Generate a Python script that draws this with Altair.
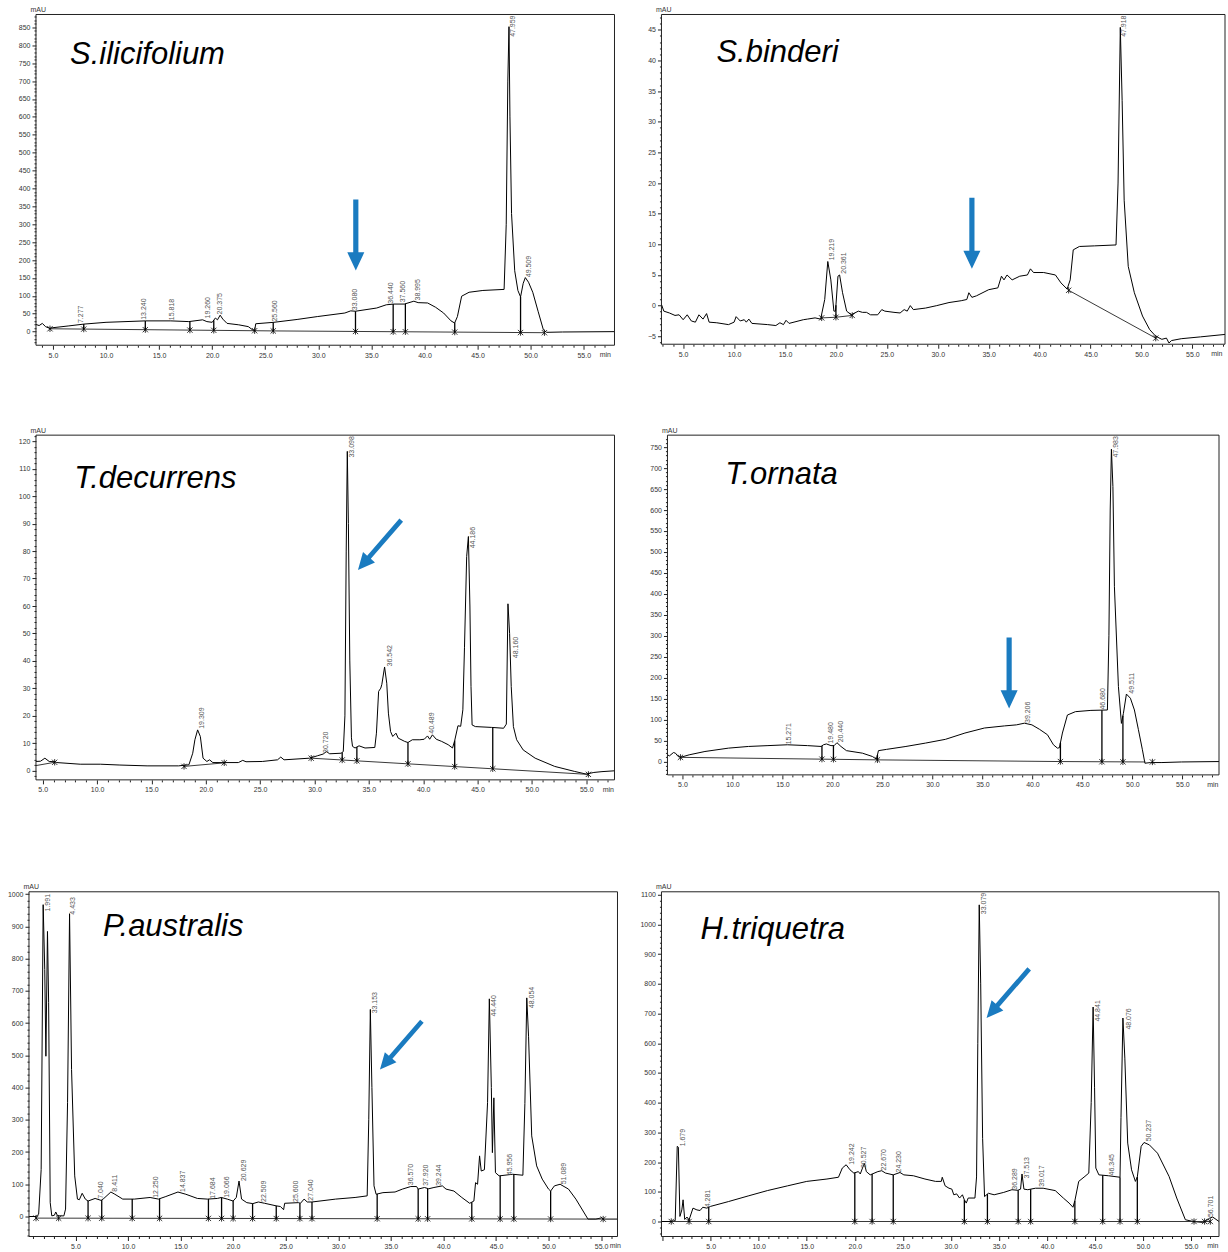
import altair as alt
import numpy as np
import pandas as pd

FONT = "Liberation Sans"
TITLE_FONT = "Liberation Sans"
ARROW_COLOR = "#1a7bc0"
ARROW_PATH = "M-0.073,-1L0.073,-1L0.073,0.49L0.24,0.49L0,1L-0.24,0.49L-0.073,0.49Z"
MARK_PATH = "M-1,-1L1,1M-1,1L1,-1M0,-1.2L0,1.2"

# ---------------- S.ilicifolium ----------------
p1_trace = [(3.4,20),(3.7,17),(4.0,23),(4.3,14),(4.7,9),(5.0,11),(6.5,16),(7.9,21),(10.0,26),(13.7,30),
            (16.1,30),(17.8,28),(19.1,33),(19.5,28),(20.0,26),(20.3,38),(20.5,33),(20.75,46),(21.0,35),(21.4,23),
            (22.5,19),(23.4,14),(23.85,4),(24.0,2),(24.1,22),(25.8,26),(28.0,34),(29.9,42),(32.5,52),(33.05,58),
            (33.5,57),(35.5,66),(36.4,75),(37.1,77),(38.1,77),(39.0,85),(39.4,81),(40.3,80),(41.05,68),(41.8,52),
            (42.5,30),(42.84,24),(43.1,42),(43.5,99),(44.2,110),(45.5,115),(47.5,118),(47.7,300),(47.85,700),(47.96,852),
            (48.05,600),(48.2,330),(48.5,170),(48.8,115),(49.05,97),(49.3,135),(49.5,151),(49.8,138),(50.2,110),(50.7,57),
            (51.2,5),(51.5,-2),(53.0,-1),(57.9,0)]
p1_base = [[(4.72,8),(25.75,2),(51.3,-3)]]
p1_drops = [7.9,13.7,17.9,20.15,24.0,25.75,33.5,37.05,38.2,42.85,49.05]
p1_marks = [4.72,7.9,13.7,17.9,20.15,24.0,25.75,33.5,37.05,38.2,42.85,49.05,51.3]
p1_labels = [("7.277",7.277,24),("13.240",13.24,33),("15.818",15.818,32),("19.260",19.26,37),("20.375",20.375,48),
             ("25.560",25.56,28),("33.080",33.08,60),("36.440",36.44,78),("37.560",37.56,82),("38.995",38.995,87),
             ("49.509",49.509,152)]
p1_top = [("47.959",47.959)]

# ---------------- S.binderi ----------------
p2_trace = [(2.87,0.2),(3.1,-0.9),(3.65,-1.2),(4.2,-1.6),(4.6,-1.5),(5.0,-2.3),(5.4,-1.5),(5.8,-2.5),(6.2,-2.7),(6.55,-1.5),
            (6.95,-2.2),(7.3,-1.3),(7.55,-2.7),(8.3,-2.8),(9.45,-3.1),(10.0,-2.7),(10.2,-1.8),(10.6,-2.5),(11.0,-2.3),(11.2,-2.7),
            (11.45,-2.2),(11.75,-2.9),(13.3,-3.1),(14.1,-3.25),(14.5,-2.8),(14.85,-3.1),(15.1,-2.4),(15.4,-2.9),(16.8,-2.3),(17.2,-2.2),
            (17.95,-2.0),(18.5,-2.2),(18.9,1.0),(19.2,7.2),(19.5,4.2),(19.8,-0.9),(19.96,-0.9),(20.2,4.8),(20.36,5.0),(20.65,2.1),
            (21.05,-0.9),(21.5,-1.5),(22.2,-0.9),(22.6,-1.1),(23.0,-1.1),(23.4,-1.5),(24.1,-1.5),(24.5,-0.65),(24.8,-0.9),(25.7,-1.1),
            (26.3,-1.2),(26.7,-0.65),(27.0,-0.9),(27.3,0.0),(27.6,-0.65),(28.8,-0.4),(29.9,0.0),(31.1,0.5),(32.3,0.8),(32.85,1.0),
            (33.05,2.1),(33.35,1.35),(33.8,1.6),(35.0,2.6),(35.9,2.9),(36.25,4.8),(36.5,4.2),(36.8,5.0),(37.3,4.2),(38.05,4.8),
            (38.8,5.0),(39.1,6.0),(39.4,5.4),(40.4,5.4),(41.55,5.0),(42.1,3.7),(42.7,2.7),(43.0,4.2),(43.3,9.1),(43.9,9.65),
            (45.4,9.75),(47.5,9.9),(47.7,20.0),(47.92,45.4),(48.1,33.5),(48.3,17.2),(48.7,6.4),(49.3,2.1),(50.1,-1.7),(50.8,-3.9),
            (51.4,-5.0),(52.0,-5.5),(52.45,-5.3),(52.7,-6.1),(52.95,-5.7),(53.9,-5.4),(55.8,-5.1),(58.2,-4.7)]
p2_base = [[(18.6,-2.0),(20.0,-1.9),(21.6,-1.6)],[(42.85,2.5),(51.4,-5.3)]]
p2_drops = [20.0]
p2_marks = [18.6,20.0,21.6,42.85,51.4]
p2_labels = [("19.219",19.219,7.4),("20.361",20.361,5.2)]
p2_top = [("47.918",47.918)]

# ---------------- T.decurrens ----------------
p3_trace = [(4.38,3.4),(4.8,3.5),(5.2,4.6),(5.6,3.4),(6.1,3.3),(6.3,3.0),(8.45,2.4),(10.3,2.4),(12.1,2.1),(14.6,1.8),
            (17.5,1.8),(18.45,2.2),(18.8,6.4),(19.0,11.3),(19.25,14.9),(19.5,12.5),(19.75,4.6),(20.1,3.4),(20.35,4.0),(20.65,3.0),
            (23.0,3.0),(23.4,3.8),(23.7,3.3),(25.2,3.4),(26.6,4.0),(26.9,5.0),(27.2,4.0),(29.55,4.6),(30.3,5.5),(30.8,6.1),
            (31.1,7.0),(31.4,6.2),(32.45,6.4),(32.65,7.0),(32.8,20),(32.92,80),(33.02,116.3),(33.12,90),(33.25,40),(33.4,12),
            (33.5,8.9),(33.73,8.3),(34.1,9.1),(34.65,8.3),(35.55,8.5),(35.7,13.7),(35.9,28.9),(36.1,30.1),(36.2,31.5),(36.45,37.8),
            (36.65,31.9),(36.8,21),(37.0,14.3),(37.2,12.5),(37.5,13.7),(37.7,11.9),(38.3,10.7),(38.6,10.3),(39.0,11.3),(39.7,11.3),
            (40.1,11.5),(40.4,12.7),(40.6,11.5),(40.85,13.1),(41.2,11.5),(41.7,10.7),(42.3,9.5),(42.7,8.3),(42.9,11),(43.2,16.4),
            (43.45,16.2),(43.65,22.2),(43.8,45),(44.0,78),(44.16,85.3),(44.3,60),(44.4,30.7),(44.5,16.7),(44.8,16.1),(46.3,15.8),
            (47.4,15.5),(47.65,17),(47.8,60.8),(47.95,50),(48.1,30.7),(48.3,16.1),(48.6,11.3),(49.2,7.6),(50.3,4.6),(52.1,1.6),
            (53.9,-0.2),(55.0,-1.2),(55.7,-0.6),(56.45,-0.3),(57.6,0)]
p3_base = [[(4.38,1.9),(6.1,3.1)],[(18.0,1.6),(21.7,2.9)],[(29.7,4.6),(55.2,-1.3)]]
p3_drops = [32.55,33.9,38.6,42.9,46.4]
p3_marks = [6.1,18.0,21.7,29.7,32.55,33.9,38.6,42.9,46.4,55.2]
p3_labels = [("19.309",19.309,15.3),("30.720",30.72,6.5),("36.542",36.542,38),("40.489",40.489,13.5),
             ("44.186",44.186,81),("48.160",48.16,41)]
p3_top = [("33.098",33.098)]

# ---------------- T.ornata ----------------
p4_trace = [(3.5,16),(3.7,13.5),(4.1,21.5),(4.3,20),(4.57,12),(4.8,10),(5.67,16),(7.25,24),(9.6,32),(11.6,36),
            (13.55,38),(15.5,40),(17.5,38),(18.87,36),(19.1,40),(19.4,42),(19.85,38),(20.17,38),(20.45,45),(20.85,36),
            (21.4,26),(23.0,20),(24.0,12),(24.4,5.6),(24.6,26),(25.4,29),(27.35,36),(29.3,44),(31.3,53),(33.25,68),
            (35.2,80),(37.2,85),(38.4,87.5),(39.2,91.5),(39.95,87.5),(40.7,77),(41.5,64),(42.1,40),(42.5,32),(42.7,33),
            (43.0,68),(43.5,111),(44.3,119),(45.85,122),(47.5,123),(47.65,300),(47.78,600),(47.9,745),(48.05,656),(48.2,417),
            (48.6,179),(48.9,91),(49.1,115),(49.4,161),(49.8,151),(50.2,123),(50.6,76),(51.0,28),(51.25,-4),(51.8,-2.4),
            (52.95,-2.4),(54.9,-1),(58.66,0)]
p4_base = [[(4.8,10),(24.5,4),(42.8,0),(51.3,-1)]]
p4_drops = [18.95,20.1,24.5,42.8,46.95,49.05]
p4_marks = [4.8,18.95,20.1,24.5,42.8,46.95,49.05,52.0]
p4_labels = [("15.271",15.271,41),("19.480",19.48,43),("20.440",20.44,46),("39.206",39.206,92),
             ("46.680",46.68,124),("49.511",49.511,162)]
p4_top = [("47.983",47.983)]

# ---------------- P.australis ----------------
p5_trace = [(0.58,0),(1.25,0),(1.5,7),(1.74,146),(1.93,967),(2.08,766),(2.19,497),(2.34,884),(2.45,663),(2.6,43),
            (2.75,2),(3.0,4),(3.13,14),(3.3,2),(3.9,2),(4.06,23),(4.25,353),(4.44,939),(4.63,456),(4.93,126),
            (5.19,54),(5.37,52),(5.64,72),(5.94,54),(6.2,48),(6.87,56),(7.44,50),(7.7,56),(8.37,76),(8.75,69),
            (9.5,54),(10.6,54),(12.1,59),(12.9,54),(13.6,62),(14.75,76),(15.5,69),(16.6,56),(17.56,54),(18.5,56),
            (18.87,59),(19.44,54),(20.0,48),(20.3,59),(20.56,110),(20.8,54),(21.3,43),(21.87,40),(22.4,45),(23.0,41),
            (24.1,33),(24.5,31),(24.8,21),(24.9,41),(26.2,43),(26.4,41),(26.75,54),(27.05,45),(27.5,45),(29.75,54),
            (31.6,59),(32.75,64),(32.9,300),(33.05,642),(33.2,400),(33.4,95),(33.6,69),(34.25,74),(35.4,76),(36.1,85),
            (36.9,93),(37.45,93),(37.6,85),(38.2,90),(38.6,86),(39.1,90),(39.9,95),(40.25,85),(41.0,79),(41.75,59),
            (42.5,41),(42.9,48),(43.06,105),(43.25,100),(43.44,188),(43.6,141),(43.9,145),(44.2,353),(44.37,675),(44.56,400),
            (44.66,198),(44.8,368),(44.95,136),(45.3,126),(46.6,131),(47.56,128),(47.75,350),(47.93,678),(48.1,559),(48.4,250),
            (48.87,157),(49.4,116),(50.0,85),(50.2,79),(50.56,95),(51.1,100),(51.9,85),(52.6,54),(53.75,-8),(54.5,-8),
            (55.06,-4),(55.2,-8),(56.56,-8)]
p5_base = [[(1.25,-5),(55.2,-8)]]
p5_drops = [6.2,7.5,10.4,13.0,17.65,18.9,20.0,21.85,24.1,26.35,27.5,33.7,37.6,38.5,42.7,45.4,46.7,50.2]
p5_marks = [1.25,3.4,6.2,7.5,10.4,13.0,17.65,18.9,20.0,21.85,24.1,26.35,27.5,33.7,37.6,38.5,42.7,45.4,46.7,50.2,55.2]
p5_labels = [("1.991",1.991,946),("4.433",4.433,936),("7.040",7.04,55),("8.411",8.411,77),("12.250",12.25,58),
             ("14.837",14.837,76),("17.684",17.684,55),("19.066",19.066,58),("20.629",20.629,110),("22.509",22.509,45),
             ("25.600",25.6,45),("27.040",27.04,49),("33.153",33.153,630),("36.570",36.57,97),("37.920",37.92,95),
             ("39.244",39.244,95),("44.440",44.44,620),("45.956",45.956,128),("48.054",48.054,646),("51.089",51.089,100)]
p5_top = []

# ---------------- H.triquetra ----------------
p6_trace = [(-0.12,0),(0.9,0),(1.31,3),(1.52,253),(1.64,250),(1.8,17),(2.0,39),(2.13,73),(2.3,7),(2.54,15),
            (2.75,5),(3.16,45),(3.57,39),(3.9,37),(4.18,48),(4.6,45),(5.0,51),(6.84,67),(8.9,86),(10.9,104),
            (13.0,120),(15.0,135),(17.1,143),(18.3,149),(18.7,180),(19.1,191),(19.5,174),(19.9,163),(20.37,168),(20.57,160),
            (20.8,180),(21.0,196),(21.2,168),(21.6,157),(22.4,168),(22.8,171),(23.2,163),(24.0,157),(24.7,165),(25.1,157),
            (26.1,154),(27.3,143),(28.4,135),(29.0,135),(29.1,149),(29.4,120),(29.8,112),(30.1,109),(30.3,90),(30.6,93),
            (30.9,79),(31.2,90),(31.4,73),(31.6,62),(31.8,79),(32.5,79),(32.67,150),(32.8,600),(32.95,1066),(33.1,800),
            (33.3,280),(33.5,84),(33.9,95),(34.5,90),(35.5,98),(36.35,107),(36.97,105),(37.25,109),(37.4,160),(37.6,109),
            (38.0,107),(38.8,112),(39.6,112),(40.86,104),(41.7,79),(42.3,62),(42.7,48),(42.9,70),(43.3,135),(43.95,152),
            (44.35,163),(44.6,400),(44.8,722),(44.95,450),(45.08,180),(45.4,157),(46.4,154),(47.6,149),(47.7,350),(47.9,685),
            (48.1,550),(48.4,264),(48.8,174),(49.2,135),(49.4,150),(49.8,253),(50.1,266),(50.65,258),(51.5,230),(52.7,152),
            (53.5,79),(54.4,6),(55.2,0),(56.2,-3),(56.6,3),(56.9,11),(57.25,15),(57.9,0)]
p6_base = [[(0.9,0),(57.0,0)]]
p6_drops = [2.75,4.8,20.0,21.8,24.0,31.4,33.8,37.0,38.3,42.9,45.8,47.6,49.4]
p6_marks = [0.9,2.75,4.8,20.0,21.8,24.0,31.4,33.8,37.0,38.3,42.9,45.8,47.6,49.4,55.3,56.4,57.0]
p6_labels = [("1.679",1.679,253),("4.281",4.281,48),("19.242",19.242,191),("20.527",20.527,180),("22.670",22.67,172),
             ("24.230",24.23,165),("36.289",36.289,107),("37.513",37.513,145),("39.017",39.017,117),("44.841",44.841,673),
             ("46.345",46.345,155),("48.076",48.076,646),("50.237",50.237,270),("56.701",56.701,15)]
p6_top = [("33.079",33.079)]

# frame = plot frame in page pixels (left, top, width, height); cell = grid cell (left, top, width, height)
panels = [
    dict(title="S.ilicifolium", title_at=(6.61, 749), arrow=(33.53, 270, 0, 71), min_dx=-4,
         trace=p1_trace, base=p1_base, drops=p1_drops, marks=p1_marks, labels=p1_labels, top=p1_top,
         xdom=(3.4, 57.9), ydom=(-38, 886), ymajor=50, yminor=10,
         frame=(35, 14, 579, 331), cell=(28, 14, 586, 331)),
    dict(title="S.binderi", title_at=(8.27, 39.7), arrow=(33.35, 11.8, 0, 71), min_dx=-3,
         trace=p2_trace, base=p2_base, drops=p2_drops, marks=p2_marks, labels=p2_labels, top=p2_top,
         xdom=(2.87, 58.2), ydom=(-6.3, 47.5), ymajor=5, yminor=1,
         frame=(661, 14, 564, 330), cell=(661, 14, 564, 331)),
    dict(title="T.decurrens", title_at=(7.89, 102.9), arrow=(35.99, 82.2, 41, 66), min_dx=-1,
         trace=p3_trace, base=p3_base, drops=p3_drops, marks=p3_marks, labels=p3_labels, top=p3_top,
         xdom=(4.38, 57.6), ydom=(-3.3, 122.2), ymajor=10, yminor=2,
         frame=(35, 435, 579, 345), cell=(28, 435, 586, 367)),
    dict(title="T.ornata", title_at=(9.29, 661.8), arrow=(37.67, 211.3, 0, 71), min_dx=-1,
         trace=p4_trace, base=p4_base, drops=p4_drops, marks=p4_marks, labels=p4_labels, top=p4_top,
         xdom=(3.5, 58.66), ydom=(-31.8, 778.6), ymajor=50, yminor=10,
         frame=(667, 435, 552, 340), cell=(661, 435, 558, 367)),
    dict(title="P.australis", title_at=(7.61, 870.6), arrow=(35.96, 530.4, 41, 64), min_dx=3,
         trace=p5_trace, base=p5_base, drops=p5_drops, marks=p5_marks, labels=p5_labels, top=p5_top,
         xdom=(0.58, 56.56), ydom=(-62, 1007), ymajor=100, yminor=20,
         frame=(28, 892, 589, 345), cell=(28, 892, 589, 345)),
    dict(title="H.triquetra", title_at=(3.94, 952), arrow=(35.93, 768, 41, 65), min_dx=-1,
         trace=p6_trace, base=p6_base, drops=p6_drops, marks=p6_marks, labels=p6_labels, top=p6_top,
         xdom=(-0.12, 57.9), ydom=(-50.5, 1110), ymajor=100, yminor=20,
         frame=(661, 892, 558, 345), cell=(661, 892, 558, 345)),
]


def make_panel(p):
    fx, fy, fw, fh = p["frame"]
    cx, cy, cw, ch = p["cell"]
    x0, x1 = p["xdom"]
    y0, y1 = p["ydom"]
    ppm = fw / (x1 - x0)
    ppu = fh / (y1 - y0)
    left_ext = fx - cx
    bot_ext = (cy + ch) - (fy + fh)
    top_ext = fy - cy
    # scale domains stretched to cover the whole grid cell
    xv0 = x0 - left_ext / ppm
    xv1 = x1 + ((cx + cw) - (fx + fw)) / ppm
    yv0 = y0 - bot_ext / ppu
    yv1 = y1 + top_ext / ppu
    xs = alt.Scale(domain=[xv0, xv1], nice=False, zero=False)
    ys = alt.Scale(domain=[yv0, yv1], nice=False, zero=False)
    xt = [float(i) for i in range(int(np.ceil(x0)), int(np.floor(x1)) + 1)]
    st, mj = p["yminor"], p["ymajor"]
    yt = [float(v) for v in range(int(np.ceil(y0 / st)) * st, int(np.floor(y1 / st)) * st + 1, st)]
    xaxis = alt.Axis(values=xt, title="min", domain=False, offset=-bot_ext,
                     labelExpr="(datum.value % 5 === 0 && datum.value > 0) ? format(datum.value, '.1f') : ''",
                     tickSize={"condition": {"test": "datum.value % 5 === 0", "value": 4}, "value": 2},
                     labelPadding=2, labelOverlap=False, labelFlush=False,
                     titleAnchor="start", titleAlign="right", titleBaseline="middle",
                     titleX=left_ext + fw + p["min_dx"], titleY=9.5)
    yaxis = alt.Axis(values=yt, title="mAU", domain=False, offset=-left_ext,
                     labelExpr=f"datum.value % {mj} === 0 ? format(datum.value, 'd') : ''",
                     tickSize={"condition": {"test": f"datum.value % {mj} === 0", "value": 4}, "value": 2},
                     labelPadding=2, labelOverlap=False, labelFlush=False,
                     titleAngle=0, titleAlign="left", titleBaseline="bottom", titleX=-6, titleY=top_ext - 2)

    tr_t = np.array([a for a, b in p["trace"]], dtype=float)
    tr_v = np.array([b for a, b in p["trace"]], dtype=float)
    bt = np.array([a for piece in p["base"] for a, b in piece], dtype=float)
    bv = np.array([b for piece in p["base"] for a, b in piece], dtype=float)

    X = lambda f: alt.X(f, type="quantitative", scale=xs, axis=xaxis)
    Y = lambda f: alt.Y(f, type="quantitative", scale=ys, axis=yaxis)

    trace_df = pd.DataFrame({"t": tr_t, "v": tr_v})
    base_df = pd.DataFrame([{"piece": i, "t": a, "v": b} for i, piece in enumerate(p["base"]) for a, b in piece])
    drop_df = pd.DataFrame({"t": p["drops"],
                            "vb": np.interp(p["drops"], bt, bv),
                            "vt": np.interp(p["drops"], tr_t, tr_v)})
    mark_df = pd.DataFrame({"t": p["marks"], "vb": np.interp(p["marks"], bt, bv)})
    lab_df = pd.DataFrame(p["labels"], columns=["txt", "t", "v"])

    layers = [
        alt.Chart(trace_df).mark_line(color="black", strokeWidth=1.0).encode(x=X("t"), y=Y("v")),
        alt.Chart(base_df).mark_line(color="#222", strokeWidth=0.9).encode(
            x=X("t"), y=Y("v"), detail="piece:N"),
        alt.Chart(drop_df).mark_rule(color="black", strokeWidth=1.3).encode(x=X("t"), y=Y("vb"), y2="vt"),
        alt.Chart(mark_df).mark_point(shape=MARK_PATH, size=28, strokeWidth=0.8, color="black",
                                      filled=False, opacity=1).encode(x=X("t"), y=Y("vb")),
        alt.Chart(lab_df).mark_text(angle=270, align="left", baseline="top", fontSize=7, font=FONT,
                                    color="#555").encode(x=X("t"), y=Y("v"), text="txt:N"),
    ]
    if p["top"]:
        top_df = pd.DataFrame(p["top"], columns=["txt", "t"])
        top_df["v"] = y1 - 1.0 / ppu
        layers.append(alt.Chart(top_df).mark_text(angle=270, align="right", baseline="top", fontSize=7,
                                                  font=FONT, color="#555").encode(x=X("t"), y=Y("v"), text="txt:N"))
    title_df = pd.DataFrame({"t": [p["title_at"][0]], "v": [p["title_at"][1]], "txt": [p["title"]]})
    layers.append(alt.Chart(title_df).mark_text(align="left", baseline="alphabetic", fontSize=31, font=TITLE_FONT,
                                                fontStyle="italic", color="black").encode(
        x=X("t"), y=Y("v"), text="txt:N"))
    at, av, ang, ln = p["arrow"]
    arrow_df = pd.DataFrame({"t": [at], "v": [av]})
    layers.append(alt.Chart(arrow_df).mark_point(shape=ARROW_PATH, filled=True, color=ARROW_COLOR, opacity=1,
                                                 strokeWidth=0, size=ln * ln, angle=ang).encode(x=X("t"), y=Y("v")))
    layers.append(alt.Chart(pd.DataFrame({"k": [0]})).mark_rect(filled=False, color="#222", strokeWidth=1).encode(
        x=alt.value(left_ext), x2=alt.value(left_ext + fw), y=alt.value(top_ext), y2=alt.value(top_ext + fh)))
    return alt.layer(*layers).properties(width=cw, height=ch)


P = [make_panel(p) for p in panels]

chart = alt.concat(*P, columns=2, spacing={"row": 90, "column": 44}, bounds="flush", align="each").properties(
    padding={"left": 6, "top": 4, "right": 0, "bottom": 0}
).configure_view(stroke="transparent").configure_axis(
    labelFont=FONT, labelFontSize=7, labelColor="#333", tickColor="#222", domainColor="#222",
    grid=False, titleFont=FONT, titleFontSize=7, titleFontWeight="normal", titleColor="#333"
)

chart.save("out.html", embed_options={"renderer": "svg", "actions": False})
